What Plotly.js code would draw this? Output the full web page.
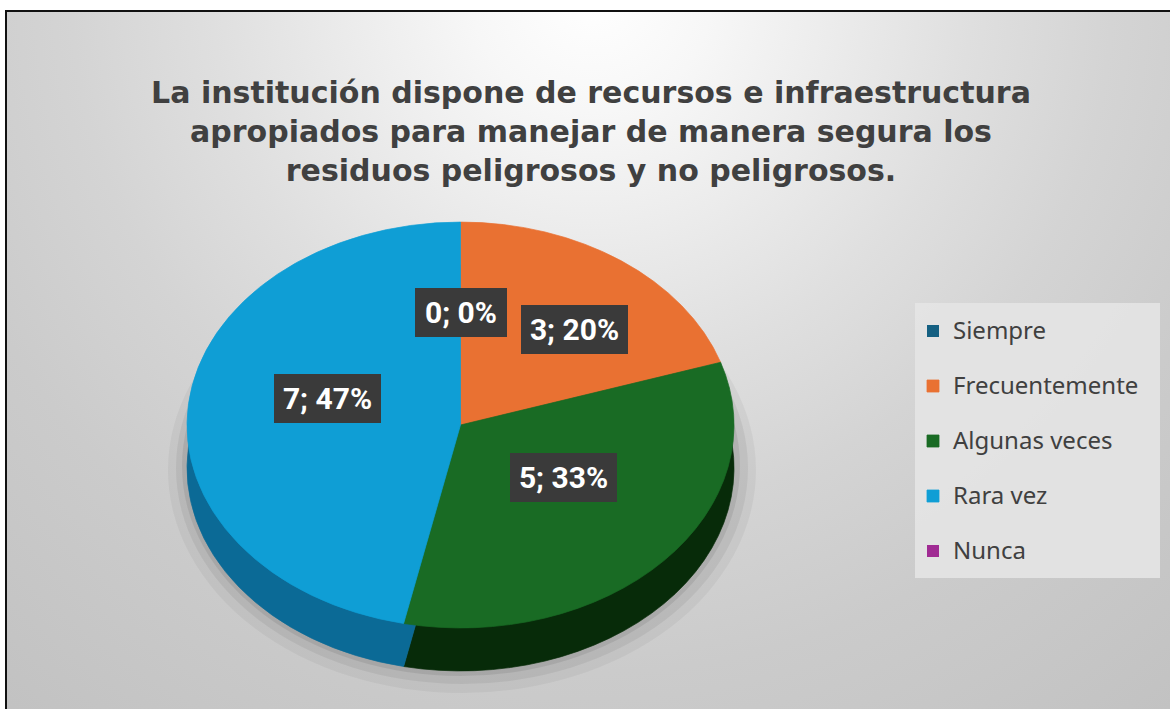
<!DOCTYPE html>
<html>
<head>
<meta charset="utf-8">
<script src="https://cdn.plot.ly/plotly-3.0.1.min.js"></script>
<style>
html,body{margin:0;padding:0;width:1170px;height:709px;overflow:hidden;background:#ffffff;}
#bg{position:absolute;left:5px;top:10px;width:1165px;height:699px;box-sizing:border-box;
  border-top:2px solid #111;border-left:2px solid #111;
  background:
    radial-gradient(circle at 585px -20px, #ffffff 0px, #f7f7f7 120px, #ececec 240px, #dfdfdf 380px, #d4d4d4 520px, #cbcbcb 680px, #c2c2c2 920px);}
#chart{position:absolute;left:0;top:0;width:1170px;height:709px;}
</style>
</head>
<body>
<div id="bg"></div>
<div id="chart"></div>
<script>
// ---- data ----
const categories = ['Siempre', 'Frecuentemente', 'Algunas veces', 'Rara vez', 'Nunca'];
const counts = [0, 3, 5, 7, 0];
const topColors = ['#156082', '#E97132', '#196B24', '#0F9ED5', '#A02B93'];
const sideColors = ['#0c3a4f', '#8c4019', '#072b09', '#0b6a96', '#601a58'];
const titleLines = [
  'La institución dispone de recursos e infraestructura',
  'apropiados para manejar de manera segura los',
  'residuos peligrosos y no peligrosos.'
];
// data label box centres (px) and widths; null = no label shown
const labelPosX = [461, 574.5, 563.5, 327.5, null];
const labelPosY = [312.5, 330, 477.5, 398.5, null];
const labelBoxW = [92, 107, 107, 107, 0];

// ---- geometry ----
const W = 1170, H = 709;
const cx = 460.5, r = 273.5;      // pie centre x & radius (px)
const cyTop = 425;                // visible centre of top face
const squash = 0.742;             // vertical squash for tilted look
const depth = 43;                 // visible thickness (px)
const pre = 300;                  // pre-transform centre y (px)
const preSide = pre + depth / squash;

const fx = x => x / W;
const fy = y => 1 - y / H;

const total = counts.reduce((a, b) => a + b, 0);
const pct = counts.map(v => Math.round(v / total * 100));
const seamWidths = counts.map(v => (v > 0 ? 0.8 : 0));

const sideTrace = {
  type: 'pie',
  labels: categories,
  values: counts,
  sort: false,
  direction: 'clockwise',
  rotation: 0,
  textinfo: 'none',
  hoverinfo: 'skip',
  showlegend: false,
  marker: {colors: sideColors, line: {width: seamWidths, color: sideColors}},
  domain: {x: [fx(cx - r), fx(cx + r)], y: [fy(preSide + r), fy(preSide - r)]}
};

const topTrace = {
  type: 'pie',
  // legend text: bigger visible text with an extra line for item spacing
  labels: categories.map(c => '<span style="font-size:24px">' + c + '</span><br>&nbsp;'),
  values: counts,
  sort: false,
  direction: 'clockwise',
  rotation: 0,
  textinfo: 'none',
  hoverinfo: 'skip',
  showlegend: true,
  marker: {colors: topColors, line: {width: seamWidths, color: topColors}},
  domain: {x: [fx(cx - r), fx(cx + r)], y: [fy(pre + r), fy(pre - r)]}
};

const annotations = [];
categories.forEach((c, i) => {
  if (labelPosX[i] === null) return;
  annotations.push({
    xref: 'paper', yref: 'paper',
    x: fx(labelPosX[i]), y: fy(labelPosY[i]),
    xanchor: 'center', yanchor: 'middle',
    text: counts[i] + '; ' + pct[i] + '%',
    showarrow: false,
    font: {family: 'Roboto', size: 30, color: '#ffffff', weight: 'bold'},
    bgcolor: '#3a3a3a',
    borderpad: 0,
    borderwidth: 0,
    width: labelBoxW[i],
    height: 49
  });
});

function ell(xc, yc, rx, ry, fill) {
  return {type: 'circle', xref: 'paper', yref: 'paper', layer: 'below',
    x0: fx(xc - rx), x1: fx(xc + rx), y0: fy(yc + ry), y1: fy(yc - ry),
    fillcolor: fill, line: {width: 0}};
}

const shapes = [
  ell(462, 470, 294, 223, 'rgba(0,0,0,0.045)'),
  ell(462, 468, 286, 216, 'rgba(0,0,0,0.06)'),
  ell(461, 466, 279, 210, 'rgba(0,0,0,0.08)'),
  {type: 'rect', xref: 'paper', yref: 'paper', layer: 'below',
   x0: fx(915), x1: fx(1160), y0: fy(578), y1: fy(303),
   fillcolor: 'rgba(228,228,228,0.9)', line: {width: 0}}
];

const layout = {
  width: W, height: H,
  margin: {l: 0, r: 0, t: 0, b: 0, autoexpand: false},
  paper_bgcolor: 'rgba(0,0,0,0)',
  plot_bgcolor: 'rgba(0,0,0,0)',
  hovermode: false,
  title: {
    text: titleLines.join('<br>'),
    x: 591 / W, xanchor: 'center',
    y: 1 - 103 / H, yanchor: 'top',
    font: {family: 'DejaVu Sans', size: 30, color: '#404040', weight: 'bold'}
  },
  legend: {
    x: fx(913), xanchor: 'left',
    y: fy(311.5), yanchor: 'top',
    bgcolor: 'rgba(0,0,0,0)', borderwidth: 0,
    valign: 'top',
    font: {family: 'Noto Sans', size: 20, color: '#404040'}
  },
  annotations: annotations,
  shapes: shapes
};

Plotly.newPlot('chart', [sideTrace, topTrace], layout, {staticPlot: true, displayModeBar: false})
  .then(gd => {
    const pl = gd.querySelector('.pielayer');
    if (pl) pl.setAttribute('transform',
      'translate(0,' + (cyTop - pre * squash) + ') scale(1,' + squash + ')');
  });
</script>
</body>
</html>
